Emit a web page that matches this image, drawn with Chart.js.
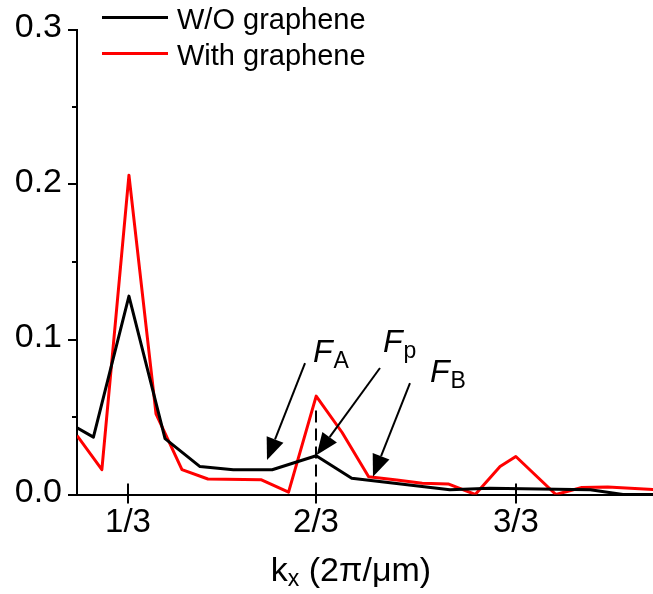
<!DOCTYPE html>
<html>
<head>
<meta charset="utf-8">
<script src="https://cdn.jsdelivr.net/npm/chart.js@4.4.0/dist/chart.umd.min.js"></script>
<style>
  html, body { margin: 0; padding: 0; background: #fff; }
  #wrap { width: 653px; height: 594px; }
</style>
</head>
<body>
<div id="wrap"><canvas id="chart" width="653" height="594"></canvas></div>
<script>
// kx (2pi/um) and amplitude
const kxNoGraphene = [0.243, 0.272, 0.335, 0.399, 0.461, 0.520, 0.589, 0.667, 0.730, 0.904, 0.975, 1.153, 1.211, 1.265];
const ampNoGraphene = [0.043, 0.037, 0.128, 0.036, 0.018, 0.016, 0.016, 0.025, 0.0105, 0.003, 0.004, 0.003, 0.0, 0.0];

const kxGraphene = [0.243, 0.287, 0.335, 0.383, 0.429, 0.475, 0.570, 0.618, 0.667, 0.713, 0.760, 0.810, 0.855, 0.901, 0.949, 0.993, 1.021, 1.092, 1.138, 1.184, 1.265];
const ampGraphene = [0.038, 0.016, 0.206, 0.052, 0.016, 0.010, 0.0095, 0.0015, 0.0635, 0.040, 0.0115, 0.0094, 0.0072, 0.0068, 0.0, 0.018, 0.0245, 0.0, 0.0045, 0.0048, 0.0032];

const seriesLabels = ["W/O graphene", "With graphene"];
const tickValues = [1 / 3, 2 / 3, 1.021];
const tickLabels = ["1/3", "2/3", "3/3"];

// dashed marker at kx = 2/3
const markerKx = [2 / 3, 2 / 3];
const markerAmp = [0, 0.058];

// arrow annotations: subscript, label anchor, arrow tail, arrow tip
const arrowSubs = ["A", "p", "B"];
const arrowLabelAt = [[0.6613, 0.0855], [0.7855, 0.0919], [0.8688, 0.0726]];
const arrowTail = [[0.6472, 0.0848], [0.7801, 0.0816], [0.8333, 0.0719]];
const arrowTip = [[0.5798, 0.0223], [0.6679, 0.0255], [0.7677, 0.0115]];

const FONT = '"Liberation Sans", Arial, Helvetica, sans-serif';

function toPoints(xs, ys) {
  return xs.map((x, i) => ({ x, y: ys[i] }));
}

const overlay = {
  id: "overlay",
  afterDraw(chart) {
    const { ctx, chartArea, scales } = chart;
    const x = scales.x;
    const y = scales.y;
    ctx.save();
    ctx.strokeStyle = "#000";
    ctx.fillStyle = "#000";
    ctx.lineWidth = 2;

    // y ticks (major + minor, outward)
    for (let v = 0; v <= 0.3001; v += 0.05) {
      const py = Math.round(y.getPixelForValue(v));
      const major = Math.abs(v * 10 - Math.round(v * 10)) < 1e-6;
      const len = major ? 9 : 5;
      ctx.beginPath();
      ctx.moveTo(chartArea.left - len, py);
      ctx.lineTo(chartArea.left, py);
      ctx.stroke();
    }

    // x ticks (crossing the axis)
    tickValues.forEach((v) => {
      const px = Math.round(x.getPixelForValue(v));
      ctx.beginPath();
      ctx.moveTo(px, chartArea.bottom - 11);
      ctx.lineTo(px, chartArea.bottom + 9);
      ctx.stroke();
    });

    // legend
    const colors = ["#000000", "#ff0000"];
    const rows = [17.5, 53.5];
    ctx.lineWidth = 3;
    ctx.font = "29px " + FONT;
    ctx.textBaseline = "alphabetic";
    ctx.textAlign = "left";
    seriesLabels.forEach((label, i) => {
      ctx.strokeStyle = colors[i];
      ctx.beginPath();
      ctx.moveTo(102, rows[i]);
      ctx.lineTo(168, rows[i]);
      ctx.stroke();
      ctx.fillText(label, 177, rows[i] + 11);
    });

    // axis title: kx (2pi/um)
    const big = "34px " + FONT;
    const small = "23px " + FONT;
    ctx.font = big;
    const wK = ctx.measureText("k").width;
    const rest = " (2\u03c0/\u03bcm)";
    const wRest = ctx.measureText(rest).width;
    ctx.font = small;
    const wSub = ctx.measureText("x").width;
    const total = wK + wSub + wRest;
    let tx = 351 - total / 2;
    const base = 581;
    ctx.font = big;
    ctx.fillText("k", tx, base);
    tx += wK;
    ctx.font = small;
    ctx.fillText("x", tx, base + 5);
    tx += wSub;
    ctx.font = big;
    ctx.fillText(rest, tx, base);

    // arrows and F labels
    ctx.strokeStyle = "#000";
    ctx.lineWidth = 2;
    arrowSubs.forEach((sub, i) => {
      const x0 = x.getPixelForValue(arrowTail[i][0]);
      const y0 = y.getPixelForValue(arrowTail[i][1]);
      const x1 = x.getPixelForValue(arrowTip[i][0]);
      const y1 = y.getPixelForValue(arrowTip[i][1]);
      const ang = Math.atan2(y1 - y0, x1 - x0);
      const headLen = 22;
      const headW = 9;
      const bx = x1 - headLen * Math.cos(ang);
      const by = y1 - headLen * Math.sin(ang);
      ctx.beginPath();
      ctx.moveTo(x0, y0);
      ctx.lineTo(bx, by);
      ctx.stroke();
      ctx.beginPath();
      ctx.moveTo(x1, y1);
      ctx.lineTo(bx + headW * Math.sin(ang), by - headW * Math.cos(ang));
      ctx.lineTo(bx - headW * Math.sin(ang), by + headW * Math.cos(ang));
      ctx.closePath();
      ctx.fill();

      const lx = x.getPixelForValue(arrowLabelAt[i][0]);
      const ly = y.getPixelForValue(arrowLabelAt[i][1]);
      ctx.font = "italic 32px " + FONT;
      ctx.fillText("F", lx, ly);
      const wF = ctx.measureText("F").width;
      ctx.font = "23px " + FONT;
      ctx.fillText(sub, lx + wF + 1, ly + 6);
    });

    ctx.restore();
  },
};

new Chart(document.getElementById("chart"), {
  type: "line",
  data: {
    datasets: [
      {
        label: "marker",
        data: toPoints(markerKx, markerAmp),
        borderColor: "#000",
        borderWidth: 2,
        borderDash: [12, 6],
        pointRadius: 0,
      },
      {
        label: seriesLabels[0],
        data: toPoints(kxNoGraphene, ampNoGraphene),
        borderColor: "#000000",
        borderWidth: 3,
        borderJoinStyle: "round",
        pointRadius: 0,
        tension: 0,
      },
      {
        label: seriesLabels[1],
        data: toPoints(kxGraphene, ampGraphene),
        borderColor: "#ff0000",
        borderWidth: 3,
        borderJoinStyle: "round",
        pointRadius: 0,
        tension: 0,
      },
    ],
  },
  options: {
    responsive: false,
    animation: false,
    layout: { padding: { top: 29.5, right: 0, left: 0, bottom: 0 } },
    plugins: {
      legend: { display: false },
      tooltip: { enabled: false },
    },
    scales: {
      x: {
        type: "linear",
        min: 0.2429,
        max: 1.2642,
        afterBuildTicks: (axis) => {
          axis.ticks = tickValues.map((v) => ({ value: v }));
        },
        afterFit: (axis) => {
          axis.height = 99.5;
        },
        ticks: {
          color: "#000",
          font: { family: FONT, size: 33 },
          padding: 9,
          maxRotation: 0,
          autoSkip: false,
          callback: (value, index) => tickLabels[index],
        },
        grid: { display: false, drawTicks: false },
        border: { display: true, color: "#000", width: 2 },
      },
      y: {
        min: 0,
        max: 0.3,
        afterBuildTicks: (axis) => {
          axis.ticks = [0, 0.1, 0.2, 0.3].map((v) => ({ value: v }));
        },
        afterFit: (axis) => {
          axis.width = 77;
        },
        ticks: {
          color: "#000",
          font: { family: FONT, size: 34, lineHeight: 0.6 },
          padding: 15,
          labelOffset: -2,
          callback: (value) => value.toFixed(1),
        },
        grid: { display: false, drawTicks: false },
        border: { display: true, color: "#000", width: 2 },
      },
    },
  },
  plugins: [overlay],
});
</script>
</body>
</html>
